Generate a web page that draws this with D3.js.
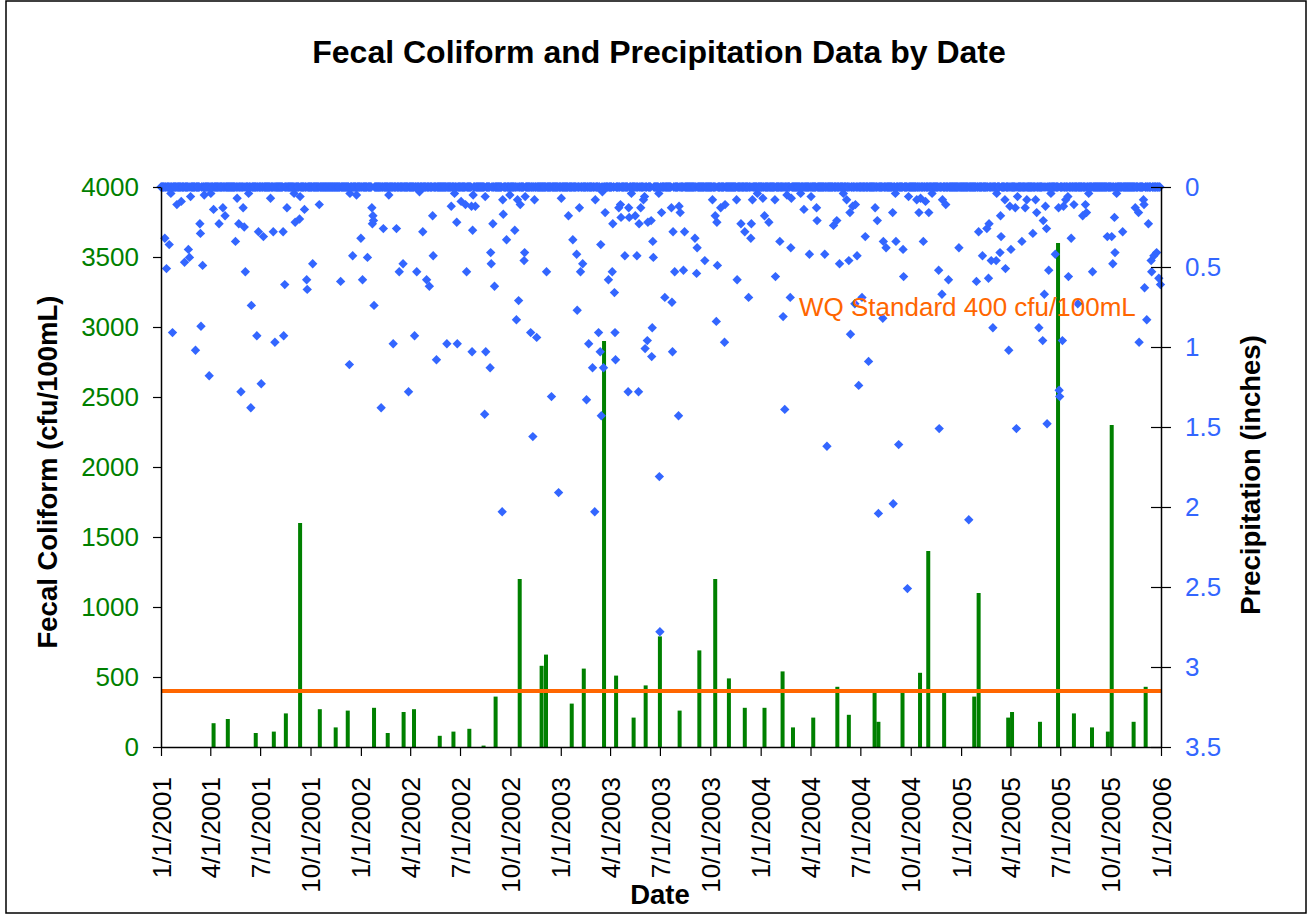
<!DOCTYPE html>
<html>
<head>
<meta charset="utf-8">
<script src="https://cdn.jsdelivr.net/npm/d3@7"></script>
<style>
  body { margin: 0; background: #fff; }
  text { font-family: "Liberation Sans", Arial, sans-serif; }
</style>
</head>
<body>
<svg id="chart" width="1313" height="915"></svg>
<script>
// fecal coliform samples (cfu/100mL)
const sampleDates = ["2001-04-07","2001-05-03","2001-06-23","2001-07-26","2001-08-17","2001-09-12","2001-10-18","2001-11-16","2001-12-08",
  "2002-01-25","2002-02-19","2002-03-20","2002-04-08","2002-05-25","2002-06-19","2002-07-18","2002-08-13","2002-09-04","2002-10-18","2002-11-27","2002-12-05",
  "2003-01-21","2003-02-12","2003-03-21","2003-04-12","2003-05-14","2003-06-05","2003-07-01","2003-08-06","2003-09-11","2003-10-10","2003-11-04","2003-12-03",
  "2004-01-08","2004-02-10","2004-02-29","2004-04-06","2004-05-20","2004-06-10","2004-07-27","2004-08-03","2004-09-16","2004-10-18","2004-11-02","2004-12-01",
  "2005-01-25","2005-02-02","2005-03-28","2005-04-04","2005-05-25","2005-06-27","2005-07-26","2005-08-28","2005-09-26","2005-10-03","2005-11-12","2005-12-04"];
const fecal = [170,200,100,110,240,1600,270,140,260,
  280,100,250,270,80,110,130,10,360,1200,580,660,
  310,560,2900,510,210,440,790,260,690,1200,490,280,
  280,540,140,210,430,230,410,180,390,530,1400,410,
  360,1100,210,250,180,3600,240,140,110,2300,180,430];

// daily precipitation, [day of year (0 = Jan 1), inches]; every other day is 0
const precip2001 = [[7,.32],[10,.51],[15,.36],[18,.04],[21,.91],[29,.11],[37,.09],[43,.47],[50,.39],[52,.44],[54,.06],[63,1.02],[71,.23],[72,.29],[73,.87],[76,.49],[79,.05],[88,1.18],[91,.04],[96,.14],[106,.23],[113,.13],[117,.18],[136,.34],[139,.07],[142,.23],[146,1.28],[150,.13],[152,.25],[154,.53],[160,.04],[164,1.38],[165,.74],[175,.93],[178,.28],[183,1.23],[187,.31],[200,.07],[205,.28],[208,.97],[223,.28],[224,.93],[226,.61],[230,.13],[243,.04],[245,.22],[253,.20],[254,.06],[262,.14],[266,.58],[267,.64],[277,.48],[289,.11],[328,.59],[344,1.11],[345,.04],[350,.43],[357,.05]];
const precip2002 = [[0,.32],[3,.58],[12,.44],[20,.13],[21,.23],[22,.18],[23,.21],[24,.74],[37,1.38],[41,.26],[51,.05],[59,.98],[65,.26],[70,.53],[77,.48],[87,1.28],[98,.93],[102,.53],[107,.03],[113,.28],[120,.58],[125,.62],[131,.18],[132,.43],[138,1.08],[157,.98],[165,.12],[171,.04],[175,.22],[176,.98],[183,.09],[191,.11],[193,.53],[202,.12],[203,1.03],[204,.27],[205,.05],[209,.12],[226,1.42],[227,.06],[228,1.03],[236,1.13],[237,.41],[238,.48],[241,.23],[244,.62],[258,2.03],[259,.08],[260,.17],[266,.33],[272,.05],[281,.27],[284,.83],[286,.08],[288,.71],[291,.11],[298,.46],[299,.41],[300,.06],[310,.91],[314,1.56],[317,.08],[321,.94],[339,.53],[348,1.31],[361,1.91]];
const precip2003 = [[1,.07],[14,.18],[22,.33],[29,.42],[30,.77],[34,.13],[36,.53],[40,.48],[47,1.33],[51,.98],[58,1.13],[62,2.03],[63,.08],[69,.91],[72,1.03],[73,.36],[74,1.43],[76,.03],[78,1.13],[81,.16],[87,.58],[94,.53],[95,.23],[98,.66],[99,.91],[100,1.08],[106,.13],[109,.11],[110,.19],[117,.43],[123,1.28],[124,.13],[125,.19],[129,.04],[136,.18],[139,.43],[142,1.28],[143,.23],[146,.13],[151,.08],[153,.06],[154,1.01],[158,.96],[159,.22],[165,.21],[166,1.06],[167,.88],[168,.34],[169,.44],[179,.04],[180,1.81],[181,2.78],[184,.16],[190,.69],[202,.13],[203,.72],[204,1.03],[205,.28],[208,.53],[215,1.43],[216,.12],[218,.16],[224,.52],[226,.28],[245,.32],[248,.54],[249,.38],[263,.46],[277,.08],[282,.18],[284,.84],[285,.22],[286,.49],[292,.13],[299,.97],[300,.11],[321,.08],[322,.58],[329,.23],[336,.28],[343,.69],[347,.32],[348,.23],[350,.08],[359,.04]];
const precip2004 = [[4,.07],[7,.18],[15,.22],[26,.08],[27,.56],[35,.34],[41,.81],[44,1.39],[48,.05],[54,.69],[55,.38],[56,.07],[73,.04],[79,.14],[89,.42],[92,.06],[102,.13],[103,.21],[117,.42],[121,1.62],[133,.24],[139,.21],[144,.48],[151,.04],[157,.08],[161,.46],[163,.16],[164,.92],[168,.12],[172,.73],[173,.11],[176,.43],[179,1.24],[185,.69],[191,.31],[197,1.09],[209,.13],[213,.21],[215,2.04],[223,.82],[224,.34],[229,.38],[241,.16],[242,1.98],[246,.04],[247,.34],[252,1.61],[260,.39],[261,.56],[268,2.51],[270,.06],[285,.08],[289,.16],[292,.07],[297,.34],[301,.09],[307,.16],[313,.04],[325,.52],[326,1.51],[331,.67],[332,.08],[338,.11],[343,.58],[362,.38]];
const precip2005 = [[14,2.08],[28,.59],[32,.28],[39,.43],[47,.26],[50,.57],[51,.23],[55,.46],[58,.88],[64,.46],[65,.04],[71,.41],[72,.18],[73,.31],[80,.08],[81,.51],[87,1.02],[89,.12],[91,.39],[99,.13],[101,1.51],[103,.06],[111,.34],[117,.13],[120,.08],[131,.29],[136,.08],[138,.16],[142,.88],[149,.96],[150,.21],[152,.67],[154,.12],[156,.26],[157,1.48],[160,.52],[164,.04],[172,.42],[178,.13],[179,1.27],[180,1.31],[185,.96],[187,.12],[191,.08],[195,.06],[196,.56],[201,.32],[206,.11],[213,.73],[222,.18],[227,.11],[229,.16],[233,.04],[240,.53],[267,.31],[275,.31],[277,.48],[280,.19],[281,.41],[284,.04],[295,.28],[318,.13],[324,.16],[325,.97],[333,.08],[334,.11],[335,.63],[339,.83],[342,.23],[347,.46],[348,.53],[352,.43],[357,.41],[361,.57],[364,.61]];

const leftTicks = [0,500,1000,1500,2000,2500,3000,3500,4000];
const rightTicks = [0,0.5,1,1.5,2,2.5,3,3.5];
const wqStandard = 400;

const svg = d3.select("#chart");
const plotLeft = 161, plotRight = 1161, plotTop = 187, plotBottom = 747;

const parse = d3.timeParse("%Y-%m-%d");
const start = new Date(2001, 0, 1), end = new Date(2006, 0, 1);

const x = d3.scaleTime().domain([start, end]).range([plotLeft, plotRight]);
const yL = d3.scaleLinear().domain([0, 4000]).range([plotBottom, plotTop]);
const yR = d3.scaleLinear().domain([0, 3.5]).range([plotTop, plotBottom]);

// build the daily precipitation series
const rain = new Map();
[[2001, precip2001], [2002, precip2002], [2003, precip2003], [2004, precip2004], [2005, precip2005]]
  .forEach(([yr, list]) => {
    list.forEach(([doy, inch]) => rain.set(+d3.timeDay.offset(new Date(yr, 0, 1), doy), inch));
  });
const days = d3.timeDay.range(start, end);
const precip = days.map(d => ({ date: d, inches: rain.get(+d) || 0 }));

const samples = sampleDates.map((d, i) => ({ date: parse(d), value: fecal[i] }));

// outer frame
svg.append("rect")
  .attr("x", 6).attr("y", 1).attr("width", 1300).attr("height", 912)
  .attr("fill", "none").attr("stroke", "#000").attr("stroke-width", 1.5);

// title
svg.append("text")
  .attr("x", 659).attr("y", 63)
  .attr("text-anchor", "middle")
  .style("font-size", "32px").style("font-weight", "bold")
  .text("Fecal Coliform and Precipitation Data by Date");

// bars
svg.append("g").selectAll("rect")
  .data(samples)
  .enter().append("rect")
  .attr("x", d => x(d.date) - 2)
  .attr("width", 4)
  .attr("y", d => yL(d.value))
  .attr("height", d => yL(0) - yL(d.value))
  .attr("fill", "#008000");

// water quality standard
svg.append("line")
  .attr("x1", plotLeft).attr("x2", plotRight)
  .attr("y1", yL(wqStandard)).attr("y2", yL(wqStandard))
  .attr("stroke", "#FF6600").attr("stroke-width", 4);

// precipitation markers
const diamond = d3.symbol().type(d3.symbolSquare).size(44);
svg.append("g").selectAll("path")
  .data(precip)
  .enter().append("path")
  .attr("d", diamond)
  .attr("transform", d => `translate(${x(d.date)},${yR(d.inches)}) rotate(45)`)
  .attr("fill", "#3366FF");

svg.append("text")
  .attr("x", 799).attr("y", 316)
  .style("font-size", "26px").attr("fill", "#FF6600")
  .text("WQ Standard 400 cfu/100mL");

// axes
const axL = svg.append("g")
  .attr("transform", `translate(${plotLeft},0)`)
  .call(d3.axisLeft(yL).tickValues(leftTicks).tickSize(8).tickSizeOuter(0).tickPadding(14).tickFormat(d3.format("d")));
axL.selectAll("text").attr("fill", "#008000").style("font-size", "26px");

const axR = svg.append("g")
  .attr("transform", `translate(${plotRight},0)`)
  .call(d3.axisRight(yR).tickValues(rightTicks).tickSize(10).tickSizeOuter(0).tickPadding(14).tickFormat(d3.format("")));
axR.selectAll(".tick line").attr("x1", -10);
axR.selectAll("text").attr("fill", "#3366FF").style("font-size", "26px");

const axB = svg.append("g")
  .attr("transform", `translate(0,${plotBottom})`)
  .call(d3.axisBottom(x).ticks(d3.timeMonth.every(3)).tickSize(9).tickSizeOuter(0).tickFormat(d3.timeFormat("%-m/%-d/%Y")));
axB.selectAll("text")
  .style("font-size", "26px").attr("fill", "#000")
  .attr("text-anchor", "end")
  .attr("transform", "rotate(-90)")
  .attr("x", -30).attr("y", 0).attr("dy", "0.35em");

svg.selectAll(".domain").attr("stroke", "#000").attr("stroke-width", 1.5);
svg.selectAll(".tick line").attr("stroke", "#000").attr("stroke-width", 1.2);

// axis titles
svg.append("text")
  .attr("transform", "translate(47,472) rotate(-90)")
  .attr("text-anchor", "middle").attr("dy", "0.35em")
  .style("font-size", "27.5px").style("font-weight", "bold")
  .text("Fecal Coliform (cfu/100mL)");

svg.append("text")
  .attr("transform", "translate(1250,475) rotate(-90)")
  .attr("text-anchor", "middle").attr("dy", "0.35em")
  .style("font-size", "27.5px").style("font-weight", "bold")
  .text("Precipitation (inches)");

svg.append("text")
  .attr("x", 660).attr("y", 904)
  .attr("text-anchor", "middle")
  .style("font-size", "27.5px").style("font-weight", "bold")
  .text("Date");
</script>
</body>
</html>
